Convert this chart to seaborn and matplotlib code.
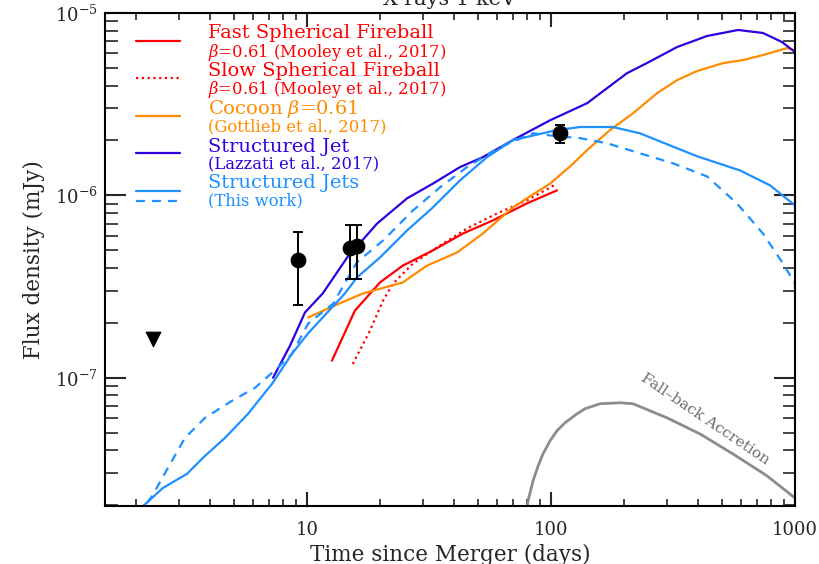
import numpy as np
import pandas as pd
import matplotlib
matplotlib.use("Agg")
import matplotlib.pyplot as plt
import seaborn as sns
from matplotlib.lines import Line2D
from matplotlib.ticker import LogLocator, NullFormatter, FuncFormatter

# ---------------- data ----------------
jets_solid_t = [2.13, 2.57, 3.22, 3.82, 4.61, 5.73, 7.19, 8.68, 10.1, 14.3, 16.0, 19.9, 25.7, 32.8,
                42.4, 54.7, 69.8, 105.8, 131.5, 179.5, 231.5, 307, 396, 595, 790, 1000]
jets_solid_f = [1.98e-8, 2.49e-8, 2.97e-8, 3.73e-8, 4.68e-8, 6.34e-8, 9.27e-8, 1.355e-7, 1.75e-7,
                2.90e-7, 3.54e-7, 4.56e-7, 6.42e-7, 8.59e-7, 1.21e-6, 1.62e-6, 2.01e-6, 2.28e-6,
                2.37e-6, 2.37e-6, 2.19e-6, 1.88e-6, 1.64e-6, 1.37e-6, 1.135e-6, 8.81e-7]

jets_dash_t = [2.21, 2.32, 2.69, 3.16, 3.82, 4.93, 6.12, 7.60, 8.68, 10.1, 12.8, 16.0, 20.5, 27.2,
               35.1, 45.3, 61.8, 84.4, 105.8, 131.5, 170, 231.5, 316, 436, 578, 739, 893, 1000]
jets_dash_f = [2.06e-8, 2.25e-8, 3.20e-8, 4.68e-8, 6.03e-8, 7.48e-8, 8.81e-8, 1.135e-7, 1.355e-7,
               1.98e-7, 2.55e-7, 4.29e-7, 5.66e-7, 8.27e-7, 1.107e-6, 1.43e-6, 1.84e-6, 2.19e-6,
               2.11e-6, 2.06e-6, 1.93e-6, 1.70e-6, 1.50e-6, 1.27e-6, 9.04e-7, 6.18e-7, 4.23e-7, 3.28e-7]

lazzati_t = [7.26, 8.52, 9.81, 11.6, 14.6, 19.4, 25.7, 32.8, 42.4, 52.6, 69.8, 99.1, 140.5, 205,
             247, 328, 436, 584, 739, 885, 1000]
lazzati_f = [1.0e-7, 1.50e-7, 2.28e-7, 2.90e-7, 4.56e-7, 7.02e-7, 9.63e-7, 1.16e-6, 1.43e-6,
             1.62e-6, 2.01e-6, 2.58e-6, 3.20e-6, 4.68e-6, 5.31e-6, 6.50e-6, 7.48e-6, 8.07e-6,
             7.77e-6, 6.93e-6, 6.10e-6]

cocoon_t = [10.1, 13.0, 16.97, 24.7, 31.0, 41.2, 52.6, 69.8, 82.0, 99.1, 119.6, 140.5, 174.5,
            216.8, 272, 328, 396, 507, 612, 739, 927, 1000]
cocoon_f = [2.14e-7, 2.49e-7, 2.90e-7, 3.33e-7, 4.12e-7, 4.86e-7, 6.18e-7, 8.59e-7, 9.88e-7,
            1.16e-6, 1.44e-6, 1.77e-6, 2.28e-6, 2.82e-6, 3.63e-6, 4.28e-6, 4.80e-6, 5.31e-6,
            5.52e-6, 5.88e-6, 6.42e-6, 6.26e-6]

fast_t = [12.65, 15.7, 19.9, 24.7, 32.8, 43.6, 57.8, 79.7, 105.8]
fast_f = [1.24e-7, 2.33e-7, 3.33e-7, 4.12e-7, 4.99e-7, 6.18e-7, 7.29e-7, 9.04e-7, 1.065e-6]

slow_t = [15.4, 18.1, 20.5, 22.5, 27.2, 34.1, 45.3, 60.1, 79.7, 105.8]
slow_f = [1.19e-7, 1.81e-7, 2.65e-7, 3.28e-7, 4.23e-7, 5.18e-7, 6.59e-7, 7.96e-7, 9.39e-7, 1.16e-6]

fallback_t = [79.0, 80.5, 84.4, 88.5, 92.7, 99.1, 105.8, 114.1, 127.8, 137.8, 158.8, 191.7,
              216.8, 298.7, 408, 557, 767, 1000]
fallback_f = [1.75e-8, 2.11e-8, 2.72e-8, 3.28e-8, 3.82e-8, 4.51e-8, 5.12e-8, 5.66e-8, 6.34e-8,
              6.76e-8, 7.20e-8, 7.29e-8, 7.20e-8, 6.03e-8, 4.92e-8, 3.82e-8, 2.90e-8, 2.19e-8]

obs_t = [9.19, 15.0, 16.0, 108.9]
obs_f = [4.40e-7, 5.12e-7, 5.25e-7, 2.19e-6]
obs_lo = [2.49e-7, 3.50e-7, 3.50e-7, 1.93e-6]
obs_hi = [6.26e-7, 6.84e-7, 6.84e-7, 2.42e-6]

ul_t = [2.34]
ul_f = [1.64e-7]

# ---------------- style ----------------
sns.set_style("white")
plt.rcParams["font.family"] = ["DejaVu Serif"]
plt.rcParams["mathtext.fontset"] = "dejavuserif"

RED = "#FF0000"
ORANGE = "#FF8C00"
DBLUE = "#3000E0"
LBLUE = "#1E90FF"
GRAY = "#8C8C8C"
LW = 1.6
DOTS = (0, (1, 1.6))
DASH = (0, (4, 3.2))

fig = plt.figure(figsize=(8.19, 5.64), dpi=100)
ax = fig.add_axes([105 / 819, 1 - 506 / 564, 690 / 819, 493 / 564])


def draw(t, f, color, ls, lw=LW):
    df = pd.DataFrame({"t": t, "f": f})
    sns.lineplot(data=df, x="t", y="f", ax=ax, color=color, lw=lw, estimator=None,
                 sort=False, legend=False)
    ax.lines[-1].set_linestyle(ls)


draw(fallback_t, fallback_f, GRAY, "-", lw=2.0)
draw(fast_t, fast_f, RED, "-")
draw(slow_t, slow_f, RED, DOTS)
draw(cocoon_t, cocoon_f, ORANGE, "-")
draw(lazzati_t, lazzati_f, DBLUE, "-")
draw(jets_solid_t, jets_solid_f, LBLUE, "-")
draw(jets_dash_t, jets_dash_f, LBLUE, DASH)

obs_t_a = np.array(obs_t)
obs_f_a = np.array(obs_f)
yerr = [obs_f_a - np.array(obs_lo), np.array(obs_hi) - obs_f_a]
ax.errorbar(obs_t_a, obs_f_a, yerr=yerr, fmt="none", ecolor="black", elinewidth=1.4,
            capsize=3.5, capthick=1.4, zorder=5)
sns.scatterplot(x=obs_t, y=obs_f, ax=ax, color="black", s=110, marker="o",
                edgecolor="black", zorder=6, legend=False)
sns.scatterplot(x=ul_t, y=ul_f, ax=ax, color="black", s=110, marker="v",
                edgecolor="black", zorder=6, legend=False)

ax.set_xscale("log")
ax.set_yscale("log")
ax.set_xlim(1.486, 1000)
ax.set_ylim(1.98e-8, 1e-5)

ax.set_xlabel("Time since Merger (days)", fontsize=15.5, labelpad=3)
ax.set_ylabel("Flux density (mJy)", fontsize=15.5, labelpad=7)

ax.xaxis.set_major_locator(LogLocator(base=10, numticks=10))
ax.xaxis.set_minor_locator(LogLocator(base=10, subs=np.arange(2, 10), numticks=20))
ax.xaxis.set_minor_formatter(NullFormatter())
ax.yaxis.set_minor_formatter(NullFormatter())
ax.xaxis.set_major_formatter(FuncFormatter(lambda v, p: f"{v:g}"))

ax.tick_params(axis="x", which="major", direction="in", length=10, width=1.5,
               top=True, bottom=True, labelsize=13, pad=11)
ax.tick_params(axis="x", which="minor", direction="in", length=5, width=1.2, top=True, bottom=True)
ax.tick_params(axis="y", which="major", direction="in", length=15, width=1.5,
               left=True, right=True, labelsize=13, pad=5)
ax.tick_params(axis="y", which="minor", direction="in", length=9, width=1.2, left=True, right=True)
for s in ax.spines.values():
    s.set_linewidth(1.5)
    s.set_color("black")

# title (partially cut off at top, as in the reference)
fig.text(450 / 819, 1 - 5 / 564, "X-rays 1 keV", ha="center", va="baseline", fontsize=15)

# Fall-back label
ax.text(428, 5.96e-8, "Fall\u2013back Accretion", rotation=-34, color="#6E6E6E",
        fontsize=11, ha="center", va="center", rotation_mode="anchor")


# ---------------- legend (manual) ----------------
def fx(px):
    return (px - 105) / 690


def fy(py):
    return (506 - py) / 493


entries = [
    (40.7, RED, "-", "Fast Spherical Fireball", "$\\beta$=0.61 (Mooley et al., 2017)", 33, 52.5),
    (78.3, RED, DOTS, "Slow Spherical Fireball", "$\\beta$=0.61 (Mooley et al., 2017)", 71, 89.5),
    (116, ORANGE, "-", "Cocoon $\\beta$=0.61", "(Gottlieb et al., 2017)", 109, 126.5),
    (153, DBLUE, "-", "Structured Jet", "(Lazzati et al., 2017)", 146.5, 163.5),
    (190.7, LBLUE, "-", "Structured Jets", "(This work)", 183.5, 200.5),
]
for ly, col, ls, main, sub, ty1, ty2 in entries:
    ax.add_line(Line2D([fx(136), fx(180)], [fy(ly), fy(ly)], transform=ax.transAxes,
                       color=col, lw=LW, ls=ls))
    ax.text(fx(208), fy(ty1), main, transform=ax.transAxes, color=col, fontsize=14,
            ha="left", va="center")
    ax.text(fx(208), fy(ty2), sub, transform=ax.transAxes, color=col, fontsize=11.8,
            ha="left", va="center")
ax.add_line(Line2D([fx(136), fx(180)], [fy(200.7), fy(200.7)], transform=ax.transAxes,
                   color=LBLUE, lw=LW, ls=DASH))

fig.savefig("out.png", dpi=100)
